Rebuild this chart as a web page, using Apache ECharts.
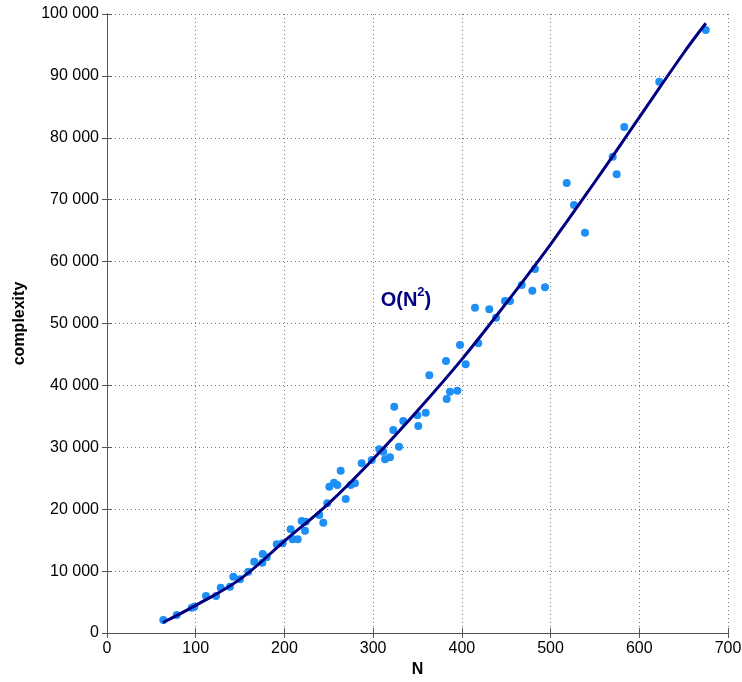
<!DOCTYPE html>
<html>
<head>
<meta charset="utf-8">
<script src="https://cdn.jsdelivr.net/npm/echarts@6/dist/echarts.min.js"></script>
<style>
html,body{margin:0;padding:0;background:#fff;}
#chart{width:742px;height:682px;}
</style>
</head>
<body>
<div id="chart"></div>
<script>
// Observed samples (N, complexity)
const sampleN = [63.5,78.6,95.5,98.4,111.6,122.9,128.2,138.6,142.4,149.9,159.3,166,175,175.5,180,191.3,198,207,209.3,215,219.5,224,223.2,239.3,243.8,248.3,250.6,255.9,259.6,263.4,269.1,274.7,279.5,287.1,298.4,306.9,311.4,313.4,319,322.7,323.8,329.1,334,349.8,350.9,359.2,363.3,382.1,382.9,386.6,394.9,397.9,404.3,414.8,418.5,430.9,438.5,448.6,454.3,467.5,479.4,482.4,493.7,518.2,526.4,538.8,570,574.5,583.1,622.5,674.9];
const sampleComplexity = [2100,2900,4090,4250,5980,5980,7320,7480,9100,8680,9900,11520,11360,12760,12230,14330,14490,16750,15140,15140,18090,17980,16530,19060,17820,20950,23630,24280,23910,26220,21650,23910,24180,27410,27950,29680,29290,28060,28380,32790,36560,30100,34250,35170,33440,35590,41630,43940,37800,38980,39140,46530,43410,52550,46800,52300,50940,53630,53630,56220,55300,58800,55850,72700,69140,64670,76950,74100,81740,89060,97420];
// Fitted O(N^2) curve
const fitN = [63,100,150,200,250,300,350,400,450,500,550,600,650,675];
const fitComplexity = [1700,4470,8700,14860,20950,28110,35910,44200,53300,62800,72900,83300,93700,98500];
// Axis ticks
const xTicks = [0,100,200,300,400,500,600,700];
const yTicks = [0,10000,20000,30000,40000,50000,60000,70000,80000,90000,100000];
const curveLabel = {text: 'O(N', sup: '2', close: ')', n: 337, c: 54100};

const chart = echarts.init(document.getElementById('chart'), null, {renderer: 'canvas'});
const fmt = v => String(v).replace(/\B(?=(\d{3})+(?!\d))/g, ' ');
const axisCol = '#555';
const gridLine = {show: true, lineStyle: {type: [1, 3], color: '#777', width: 1}};
const font = 'Liberation Sans, Arial, sans-serif';

chart.setOption({
  animation: false,
  backgroundColor: '#fff',
  grid: {left: 107, right: 14, top: 14, bottom: 49, containLabel: false, outerBoundsMode: 'none'},
  xAxis: [{
    type: 'value', min: xTicks[0], max: xTicks[xTicks.length - 1], interval: 100,
    name: 'N', nameLocation: 'middle', nameGap: 28,
    nameTextStyle: {fontFamily: font, fontSize: 16, fontWeight: 'bold', color: '#000'},
    axisLine: {show: true, onZero: false, lineStyle: {color: axisCol, width: 1}},
    axisTick: {show: true, inside: true, length: 5, lineStyle: {color: axisCol}},
    axisLabel: {fontFamily: font, fontSize: 16, color: '#000', margin: 8},
    splitLine: gridLine
  }, {
    type: 'value', position: 'top', min: xTicks[0], max: xTicks[xTicks.length - 1], interval: 100,
    axisLine: {show: true, lineStyle: {color: axisCol, width: 1}},
    axisTick: {show: true, inside: true, length: 5, lineStyle: {color: axisCol}},
    axisLabel: {show: false}, splitLine: {show: false}
  }],
  yAxis: [{
    type: 'value', min: yTicks[0], max: yTicks[yTicks.length - 1], interval: 10000,
    name: 'complexity', nameLocation: 'middle', nameGap: 79, nameRotate: 90,
    nameTextStyle: {fontFamily: font, fontSize: 16, fontWeight: 'bold', color: '#000'},
    axisLine: {show: true, onZero: false, lineStyle: {color: axisCol, width: 1}},
    axisTick: {show: true, inside: true, length: 5, lineStyle: {color: axisCol}},
    axisLabel: {fontFamily: font, fontSize: 16, color: '#000', margin: 8, formatter: fmt},
    splitLine: gridLine
  }, {
    type: 'value', position: 'right', min: yTicks[0], max: yTicks[yTicks.length - 1], interval: 10000,
    axisLine: {show: true, lineStyle: {color: axisCol, width: 1}},
    axisTick: {show: true, inside: true, length: 5, lineStyle: {color: axisCol}},
    axisLabel: {show: false}, splitLine: {show: false}
  }],
  series: [{
    type: 'scatter',
    data: sampleN.map((n, i) => [n, sampleComplexity[i]]),
    symbol: 'circle', symbolSize: 8,
    itemStyle: {color: '#1e8ff5', opacity: 1},
    z: 2
  }, {
    type: 'line',
    data: fitN.map((n, i) => [n, fitComplexity[i]]),
    smooth: 0.4, showSymbol: false, symbol: 'none',
    lineStyle: {color: '#000080', width: 3},
    z: 3,
    markPoint: {
      symbol: 'circle', symbolSize: 0,
      data: [{coord: [curveLabel.n, curveLabel.c]}],
      label: {
        show: true, position: 'inside',
        formatter: '{a|' + curveLabel.text + '}{s|' + curveLabel.sup + '}{a|' + curveLabel.close + '}',
        rich: {
          a: {fontFamily: font, fontSize: 20, fontWeight: 'bold', color: '#000080', lineHeight: 24, verticalAlign: 'bottom'},
          s: {fontFamily: font, fontSize: 13, fontWeight: 'bold', color: '#000080', lineHeight: 24, verticalAlign: 'top'}
        }
      }
    }
  }]
});
</script>
</body>
</html>
